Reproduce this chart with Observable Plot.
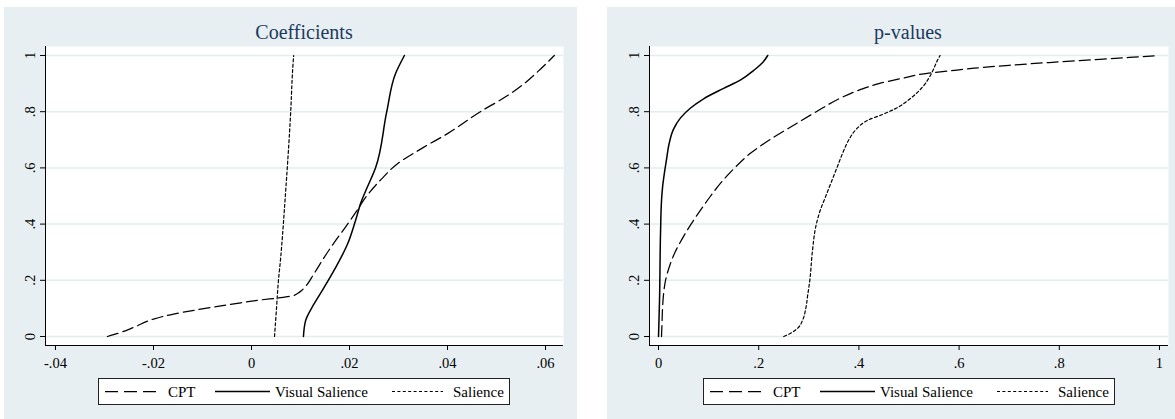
<!DOCTYPE html>
<html>
<head>
<meta charset="utf-8">
<script src="https://cdn.jsdelivr.net/npm/d3@7"></script>
<script src="https://cdn.jsdelivr.net/npm/@observablehq/plot@0.6"></script>
<style>
  body { margin: 0; background: #ffffff; font-family: "Liberation Serif", "Times New Roman", serif; }
  #root { position: relative; width: 1175px; height: 419px; overflow: hidden; background: #ffffff; }
  .panel { position: absolute; top: 7px; height: 412px; background: #e8eff2; }
  .plot { position: absolute; top: 40px; }
  #overlay { position: absolute; left: 0; top: 0; }
</style>
</head>
<body>
<div id="root"></div>
<script>
// Series names, in legend order
const seriesNames = ["CPT", "Visual Salience", "Salience"];

// Axis ticks
const yTicks = [0, 0.2, 0.4, 0.6, 0.8, 1];
const coefTicks = [-0.04, -0.02, 0, 0.02, 0.04, 0.06];
const pvalTicks = [0, 0.2, 0.4, 0.6, 0.8, 1];

// Coefficients: cumulative share (y) against estimate (x)
const coefCPT = [
  [-0.0294, 0], [-0.0273, 0.011], [-0.0241, 0.032], [-0.0200, 0.062], [-0.0159, 0.080],
  [-0.0118, 0.093], [-0.0069, 0.107], [-0.0022, 0.120], [0.0018, 0.130], [0.0059, 0.138],
  [0.0084, 0.145], [0.0098, 0.158], [0.0110, 0.178], [0.0127, 0.222], [0.0147, 0.278],
  [0.0167, 0.330], [0.0190, 0.385], [0.0214, 0.445], [0.0235, 0.500], [0.0265, 0.560],
  [0.0298, 0.615], [0.0351, 0.673], [0.0400, 0.722], [0.0467, 0.800], [0.0525, 0.860],
  [0.0560, 0.905], [0.0590, 0.952], [0.0618, 1]
];
const coefVisual = [
  [0.0106, 0], [0.0110, 0.054], [0.0127, 0.114], [0.0147, 0.171], [0.0171, 0.243],
  [0.0196, 0.329], [0.0212, 0.411], [0.0224, 0.480], [0.0236, 0.530], [0.0253, 0.600],
  [0.0276, 0.800], [0.0294, 0.936], [0.0312, 1]
];
const coefSalience = [
  [0.0047, 0], [0.0051, 0.1], [0.0055, 0.2], [0.0059, 0.27], [0.0065, 0.4],
  [0.0069, 0.5], [0.0073, 0.6], [0.0080, 0.8], [0.0084, 0.95], [0.0086, 1]
];

// p-values: cumulative share (y) against p-value (x)
const pvalCPT = [
  [0.006, 0], [0.007, 0.05], [0.008, 0.10], [0.010, 0.15], [0.014, 0.20],
  [0.022, 0.25], [0.033, 0.30], [0.048, 0.35], [0.065, 0.40], [0.084, 0.45],
  [0.104, 0.50], [0.126, 0.55], [0.152, 0.60], [0.182, 0.65], [0.222, 0.70],
  [0.268, 0.75], [0.315, 0.80], [0.365, 0.85], [0.405, 0.88], [0.440, 0.90],
  [0.490, 0.92], [0.530, 0.935], [0.580, 0.945], [0.630, 0.955], [0.700, 0.965],
  [0.780, 0.975], [0.870, 0.985], [0.940, 0.993], [0.997, 1]
];
const pvalVisual = [
  [0.000, 0], [0.002, 0.128], [0.004, 0.367], [0.006, 0.484], [0.008, 0.530],
  [0.012, 0.585], [0.016, 0.630], [0.021, 0.685], [0.030, 0.738], [0.044, 0.778],
  [0.064, 0.813], [0.090, 0.846], [0.130, 0.883], [0.164, 0.913], [0.190, 0.947],
  [0.208, 0.975], [0.218, 1]
];
const pvalSalience = [
  [0.250, 0], [0.262, 0.010], [0.278, 0.030], [0.288, 0.060], [0.294, 0.10],
  [0.298, 0.15], [0.302, 0.20], [0.307, 0.30], [0.315, 0.40], [0.323, 0.45],
  [0.334, 0.50], [0.345, 0.55], [0.356, 0.60], [0.367, 0.65], [0.380, 0.70],
  [0.396, 0.74], [0.418, 0.77], [0.447, 0.79], [0.472, 0.81], [0.505, 0.85],
  [0.528, 0.89], [0.546, 0.94], [0.556, 0.98], [0.562, 1]
];

// Line styles per series
const dashes = {"CPT": "11,5", "Visual Salience": null, "Salience": "3,2.4"};
const widths = {"CPT": 1.25, "Visual Salience": 1.5, "Salience": 1.2};

const serif = "'Liberation Serif', 'Times New Roman', serif";
const fmt = d => d === 0 ? "0" : String(+d.toFixed(2)).replace(/^(-?)0\./, "$1.");

function toRows(pairs, name) {
  return pairs.map(([x, y]) => ({x, y, series: name}));
}

function panelPlot({series, xDomain, xTicks, width, marginLeft, marginRight}) {
  const lines = series.map(([name, pairs]) =>
    Plot.line(toRows(pairs, name), {
      x: "x", y: "y", curve: "monotone-y",
      stroke: "#000", strokeWidth: widths[name],
      strokeDasharray: dashes[name] ?? undefined
    })
  );
  return Plot.plot({
    width, height: 340,
    marginLeft, marginRight, marginTop: 6, marginBottom: 35,
    x: {domain: xDomain},
    y: {domain: [-0.032, 1.032]},
    style: {background: "transparent", fontFamily: serif, fontSize: "14.5px", color: "#000", overflow: "visible"},
    marks: [
      Plot.frame({fill: "#ffffff", stroke: "none"}),
      Plot.gridY(yTicks, {stroke: "#e3ecef", strokeOpacity: 1, strokeWidth: 1.5}),
      ...lines,
      Plot.ruleX([xDomain[0]], {stroke: "#000", strokeWidth: 1}),
      Plot.ruleY([-0.032], {stroke: "#000", strokeWidth: 1}),
      Plot.axisX({ticks: xTicks, tickSize: 5, tickPadding: 7, tickFormat: fmt, label: null, stroke: "#000"}),
      Plot.axisY({ticks: yTicks, tickSize: 5, tickFormat: () => "", label: null, stroke: "#000"}),
      Plot.text(yTicks, {
        y: d => d, text: fmt, frameAnchor: "left", dx: -15,
        rotate: -90, textAnchor: "middle", lineAnchor: "middle", fill: "#000", fontSize: 14.5
      })
    ]
  });
}

const root = d3.select("#root");

// Panel backgrounds
root.append("div").attr("class", "panel").style("left", "4px").style("width", "573px");
root.append("div").attr("class", "panel").style("left", "607px").style("width", "568px");

// Plots
const left = panelPlot({
  series: [["CPT", coefCPT], ["Visual Salience", coefVisual], ["Salience", coefSalience]],
  xDomain: [-0.04204, 0.06367], xTicks: coefTicks, width: 580, marginLeft: 45, marginRight: 17
});
left.classList.add("plot");
left.style.left = "0px";
root.node().appendChild(left);

const right = panelPlot({
  series: [["CPT", pvalCPT], ["Visual Salience", pvalVisual], ["Salience", pvalSalience]],
  xDomain: [-0.018, 1.018], xTicks: pvalTicks, width: 585, marginLeft: 59, marginRight: 7
});
right.classList.add("plot");
right.style.left = "590px";
root.node().appendChild(right);

// Panel titles and legends
const overlay = root.append("svg").attr("id", "overlay").attr("width", 1175).attr("height", 419)
  .style("font-family", serif);

const panels = [
  {title: "Coefficients", cx: 304, legendX: 98},
  {title: "p-values", cx: 908, legendX: 703}
];

for (const p of panels) {
  overlay.append("text")
    .attr("x", p.cx).attr("y", 39)
    .attr("text-anchor", "middle")
    .attr("font-size", 20)
    .attr("fill", "#1c3a5e")
    .text(p.title);

  const g = overlay.append("g").attr("transform", `translate(${p.legendX},378)`);
  g.append("rect").attr("x", 0.5).attr("y", 0.5).attr("width", 411).attr("height", 26)
    .attr("fill", "#fff").attr("stroke", "#222").attr("stroke-width", 1);
  const layout = [
    {name: seriesNames[0], x1: 7, x2: 59, tx: 70},
    {name: seriesNames[1], x1: 117, x2: 172, tx: 177},
    {name: seriesNames[2], x1: 294, x2: 345, tx: 355}
  ];
  for (const item of layout) {
    g.append("line").attr("x1", item.x1).attr("x2", item.x2).attr("y1", 13.5).attr("y2", 13.5)
      .attr("stroke", "#000").attr("stroke-width", widths[item.name])
      .attr("stroke-dasharray", item.name === "CPT" ? "13,6" : dashes[item.name]);
    g.append("text").attr("x", item.tx).attr("y", 19).attr("font-size", 15).attr("fill", "#000")
      .text(item.name);
  }
}
</script>
</body>
</html>
